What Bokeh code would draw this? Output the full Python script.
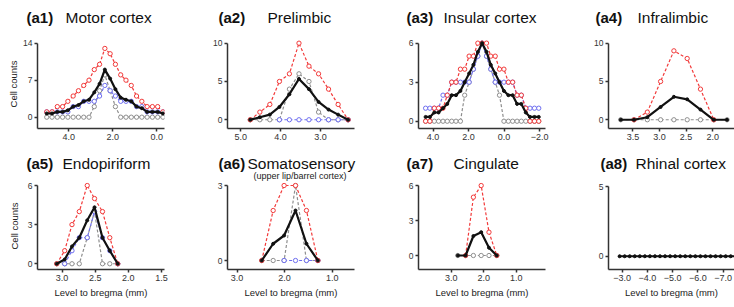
import numpy as np
from bokeh.plotting import figure
from bokeh.layouts import column, row
from bokeh.models import Range1d, FixedTicker, CustomJSTickFormatter
from bokeh.core.properties import value
from bokeh.embed import file_html
from bokeh.resources import INLINE

nan = float("nan")

# ---------------- data ----------------
# (a1) Motor cortex
a1_x = [5.00, 4.76, 4.52, 4.28, 4.04, 3.80, 3.56, 3.32, 3.08, 2.84, 2.60, 2.36,
        2.12, 1.88, 1.64, 1.40, 1.16, 0.92, 0.68, 0.44, 0.20, -0.04, -0.28]
a1_red = [1, 1, 2, 2, 3, 4, 5, 6, 7, 9, 10, 13, 12, 10, 8, 7, 6, 4, 3, 2, 2, 2, 1]
a1_blue = [1, 1, 1, 1, 1, 2, 2, 3, 3, 3, 4, 6, 5, 4, 3, 3, 3, 2, 2, 1, 1, 1, 1]
a1_gray = [0, 0, 0, 0, 0, 0, 0, 0, 0, 2, 5, 8, 5, 2, 0, 0, 0, 0, 0, 0, 0, 0, 0]
a1_mean = [0.7, 0.7, 1.0, 1.0, 1.3, 2.0, 2.3, 3.0, 3.3, 4.7, 6.3, 9.0, 7.3, 5.3,
           3.7, 3.3, 3.0, 2.0, 1.7, 1.0, 1.0, 1.0, 0.7]

# (a2) Prelimbic
a2_x = [4.76, 4.52, 4.27, 4.03, 3.78, 3.54, 3.29, 3.05, 2.80, 2.56, 2.31]
a2_red = [0, 1, 2, 5, 6, 10, 7, 6, 4, 2, 0]
a2_blue = [nan, nan, nan, 0, 0, 0, 0, 0, 0, 0, 0]
a2_gray = [0, 0, 0, 0, 4, 6, 5, 1, 0, 0, 0]
a2_mean = [0.0, 0.33, 0.67, 1.67, 3.33, 5.33, 4.0, 2.33, 1.33, 0.67, 0.0]

# (a3) Insular cortex
a3_x = [4.42, 4.18, 3.93, 3.69, 3.44, 3.20, 2.95, 2.71, 2.46, 2.22, 1.97, 1.73,
        1.48, 1.24, 0.99, 0.75, 0.50, 0.26, 0.01, -0.24, -0.48, -0.73, -0.97,
        -1.22, -1.46, -1.71, -1.95]
a3_red = [0, 0, 1, 1, 1, 2, 3, 3, 4, 4, 5, 5, 6, 6, 6, 5, 5, 4, 4, 3, 3, 2, 2, 1, 0, 0, 0]
a3_blue = [1, 1, 1, 1, 2, 2, 3, 3, 3, 3, 3, 4, 5, 6, 5, 4, 3, 3, 3, 3, 3, 2, 2, 1, 1, 1, 1]
a3_gray = [0, 0, 0, 0, 0, 0, 0, 0, 0, 2, 3, 4, 5, 6, 5, 4, 3, 2, 0, 0, 0, 0, 0, 0, 0, 0, 0]
a3_mean = [0.33, 0.33, 0.67, 0.67, 1.0, 1.33, 2.0, 2.0, 2.33, 3.0, 3.67, 4.33, 5.33,
           6.0, 5.33, 4.33, 3.67, 3.0, 2.33, 2.0, 2.0, 1.33, 1.33, 0.67, 0.33, 0.33, 0.33]

# (a4) Infralimbic
a4_x = [3.73, 3.48, 3.23, 2.98, 2.73, 2.48, 2.23, 1.98, 1.73]
a4_red = [nan, 0, 1, 5, 9, 8, 4, 0, nan]
a4_blue = [nan, nan, nan, nan, nan, nan, nan, nan, nan]
a4_gray = [0, 0, 0, 0, 0, 0, 0, 0, 0]
a4_mean = [0.0, 0.0, 0.33, 1.67, 3.0, 2.67, 1.33, 0.0, 0.0]

# (a5) Endopiriform
a5_x = [3.08, 2.96, 2.85, 2.74, 2.62, 2.51, 2.39, 2.28, 2.16]
a5_red = [0, 1, 3, 4, 6, 5, 4, 2, 0]
a5_blue = [nan, 0, 1, 2, 2, 4, 2, 1, 0]
a5_gray = [0, 0, 0, 0, 2, 4, 0, 0, 0]
a5_mean = [0.0, 0.33, 1.33, 2.0, 3.33, 4.33, 2.0, 1.0, 0.0]

# (a6) Somatosensory
a6_x = [2.48, 2.24, 2.01, 1.77, 1.54, 1.30]
a6_red = [0, 2, 3, 3, 2, 0]
a6_blue = [nan, nan, 0, 0, 0, 0]
a6_gray = [0, 0, 0, 3, 0, 0]
a6_mean = [0.0, 0.67, 1.0, 2.0, 0.67, 0.0]

# (a7) Cingulate
a7_x = [2.80, 2.56, 2.32, 2.08, 1.84, 1.60]
a7_red = [nan, 0, 5, 6, 2, 0]
a7_blue = [nan, nan, nan, nan, nan, nan]
a7_gray = [0, 0, 0, 0, 0, 0]
a7_mean = [0.0, 0.0, 1.67, 2.0, 0.67, 0.0]

# (a8) Rhinal cortex (only the mean trace is visible)
a8_x = [-2.9, -3.1, -3.3, -3.5, -3.7, -3.9, -4.1, -4.3, -4.5, -4.7, -4.9, -5.1,
        -5.3, -5.5, -5.7, -5.9, -6.1, -6.3, -6.5, -6.7, -6.9, -7.1, -7.3, -7.5]
a8_red = [nan] * 24
a8_blue = [nan] * 24
a8_gray = [nan] * 24
a8_mean = [0] * 24

# tick values
a1_xticks, a1_yticks = [4.0, 2.0, 0.0], [0, 7, 14]
a2_xticks, a2_yticks = [5.0, 4.0, 3.0], [0, 5, 10]
a3_xticks, a3_yticks = [4.0, 2.0, 0.0, -2.0], [0, 3, 6]
a4_xticks, a4_yticks = [3.5, 3.0, 2.5, 2.0], [0, 5, 10]
a5_xticks, a5_yticks = [3.0, 2.5, 2.0, 1.5], [0, 3, 6]
a6_xticks, a6_yticks = [3.0, 2.0, 1.0], [0, 3]
a7_xticks, a7_yticks = [3.0, 2.0, 1.0], [0, 3, 6]
a8_xticks, a8_yticks = [-3.0, -4.0, -5.0, -6.0, -7.0], [0, 5]

tags = ["(a1)", "(a2)", "(a3)", "(a4)", "(a5)", "(a6)", "(a7)", "(a8)"]
names = ["Motor cortex", "Prelimbic", "Insular cortex", "Infralimbic",
         "Endopiriform", "Somatosensory", "Cingulate", "Rhinal cortex"]
subtitle_a6 = "(upper lip/barrel cortex)"
ylabel = "Cell counts"
xlabel = "Level to bregma (mm)"

# ---------------- styling / layout ----------------
FONT = "Liberation Sans"
RED, BLUE, GRAY, BLACK = "#f23a3a", "#6f6ff0", "#8e8e8e", "#111111"
AX = "#333333"

col_w = [198, 191, 190, 155]
col_bl = [37, 29, 29, 29]
col_fw = [127, 127, 127, 126]
title_h = [39, 34]          # height of the title strip above each row
panel_h = [109, 125]        # height of the plot figures
row_bb = [20, 38]           # bottom border (axis area)
title_y = [17, 15]          # title text centre inside its strip
# title text x offsets (px, inside each title strip): (tag, name)
title_dx = [(26, 65), (20, 69), (17, 54), (16, 58),
            (26, 62), (20, 49), (17, 64), (21, 56)]

panels = [
    dict(x=a1_x, r=a1_red, b=a1_blue, g=a1_gray, m=a1_mean, xr=(5.42, -0.35), yr=(-2.14, 14.69),
         xt=a1_xticks, yt=a1_yticks),
    dict(x=a2_x, r=a2_red, b=a2_blue, g=a2_gray, m=a2_mean, xr=(5.33, 2.15), yr=(-1.14, 10.48),
         xt=a2_xticks, yt=a2_yticks),
    dict(x=a3_x, r=a3_red, b=a3_blue, g=a3_gray, m=a3_mean, xr=(4.82, -2.33), yr=(-0.56, 6.28),
         xt=a3_xticks, yt=a3_yticks),
    dict(x=a4_x, r=a4_red, b=a4_blue, g=a4_gray, m=a4_mean, xr=(3.96, 1.59), yr=(-1.14, 10.48),
         xt=a4_xticks, yt=a4_yticks),
    dict(x=a5_x, r=a5_red, b=a5_blue, g=a5_gray, m=a5_mean, xr=(3.37, 1.455), yr=(-0.44, 6.23),
         xt=a5_xticks, yt=a5_yticks),
    dict(x=a6_x, r=a6_red, b=a6_blue, g=a6_gray, m=a6_mean, xr=(3.20, 0.53), yr=(-0.36, 3.12),
         xt=a6_xticks, yt=a6_yticks),
    dict(x=a7_x, r=a7_red, b=a7_blue, g=a7_gray, m=a7_mean, xr=(4.01, 0.10), yr=(-1.2, 6.26),
         xt=a7_xticks, yt=a7_yticks),
    dict(x=a8_x, r=a8_red, b=a8_blue, g=a8_gray, m=a8_mean, xr=(-2.46, -7.45), yr=(-0.95, 5.29),
         xt=a8_xticks, yt=a8_yticks),
]

fmt = CustomJSTickFormatter(code="""
    return (tick < 0 ? "\\u2212" : "") + Math.abs(tick).toFixed(1);
""")


def bare(p):
    p.grid.visible = False
    p.outline_line_color = None
    p.background_fill_color = "white"
    p.border_fill_color = "white"


def title_strip(i):
    r_i, c_i = divmod(i, 4)
    w, h = col_w[c_i], title_h[r_i]
    t = figure(width=w, height=h, x_range=Range1d(0, w), y_range=Range1d(h, 0),
               output_backend="svg", toolbar_location=None,
               min_border=0, min_border_left=0, min_border_right=0,
               min_border_top=0, min_border_bottom=0)
    t.axis.visible = False
    bare(t)
    ty = title_y[r_i]
    dx_tag, dx_name = title_dx[i]
    t.text(x=[dx_tag], y=[ty], text=[tags[i]], text_font=value(FONT),
           text_font_size="15px", text_font_style="bold", text_baseline="middle",
           text_align="left", text_color="#111111")
    t.text(x=[dx_name], y=[ty], text=[names[i]], text_font=value(FONT),
           text_font_size="15.5px", text_baseline="middle", text_align="left",
           text_color="#111111")
    if i == 5:
        t.text(x=[dx_name + 6], y=[ty + 12.5], text=[subtitle_a6], text_font=value(FONT),
               text_font_size="9px", text_baseline="middle", text_align="left",
               text_color="#222222")
    return t


def dashed(p, x, y, color):
    xs = np.array(x, dtype=float)
    ys = np.array(y, dtype=float)
    p.line(xs, ys, line_color=color, line_dash="3 2", line_width=1.2)
    p.scatter(xs, ys, marker="circle", size=4.3, line_color=color, fill_color="white",
              line_width=1.0)


def panel(i):
    d = panels[i]
    r_i, c_i = divmod(i, 4)
    w, fw, bl = col_w[c_i], col_fw[c_i], col_bl[c_i]
    p = figure(width=w, height=panel_h[r_i], x_range=Range1d(*d["xr"]),
               y_range=Range1d(*d["yr"]), output_backend="svg", toolbar_location=None,
               min_border_left=bl, min_border_right=w - bl - fw,
               min_border_top=0, min_border_bottom=row_bb[r_i])
    bare(p)
    for ax in (p.xaxis[0], p.yaxis[0]):
        ax.axis_line_color = AX
        ax.axis_line_width = 1.5
        ax.major_tick_line_color = AX
        ax.major_tick_line_width = 1.5
        ax.major_tick_in = 0
        ax.major_tick_out = 3
        ax.minor_tick_line_color = None
        ax.major_label_text_font = FONT
        ax.major_label_text_color = "#333333"
        ax.major_label_standoff = 2
        ax.axis_label_text_font = FONT
        ax.axis_label_text_font_style = "normal"
        ax.axis_label_text_font_size = "9.5px"
        ax.axis_label_text_color = "#222222"
    p.xaxis[0].ticker = FixedTicker(ticks=d["xt"])
    p.xaxis[0].formatter = fmt
    p.xaxis[0].major_label_text_font_size = "9px"
    p.yaxis[0].ticker = FixedTicker(ticks=d["yt"])
    p.yaxis[0].major_label_text_font_size = "8.5px"
    p.yaxis[0].bounds = (d["yr"][0], max(d["yt"]))

    if c_i == 0:
        p.yaxis[0].axis_label = ylabel
        p.yaxis[0].axis_label_standoff = 1 if r_i == 0 else 5
    if r_i == 1:
        p.xaxis[0].axis_label = xlabel
        p.xaxis[0].axis_label_standoff = 3

    dashed(p, d["x"], d["g"], GRAY)
    dashed(p, d["x"], d["b"], BLUE)
    dashed(p, d["x"], d["r"], RED)
    xm = np.array(d["x"], dtype=float)
    ym = np.array(d["m"], dtype=float)
    p.line(xm, ym, line_color=BLACK, line_width=2.2)
    p.scatter(xm, ym, marker="circle", size=3, color=BLACK)
    return p


layout = column(
    row(*[title_strip(i) for i in range(4)]),
    row(*[panel(i) for i in range(4)]),
    row(*[title_strip(i) for i in range(4, 8)]),
    row(*[panel(i) for i in range(4, 8)]),
)
open("out.html", "w").write(file_html(layout, INLINE))
